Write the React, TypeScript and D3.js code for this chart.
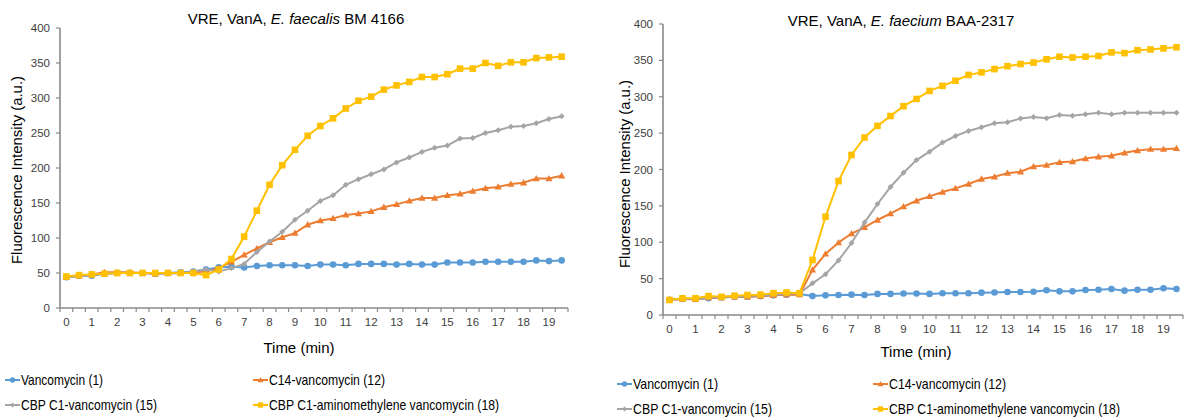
import React from "react";
import * as d3 from "d3";

const times = [0, 0.5, 1, 1.5, 2, 2.5, 3, 3.5, 4, 4.5, 5, 5.5, 6, 6.5, 7, 7.5, 8, 8.5, 9, 9.5, 10, 10.5, 11, 11.5, 12, 12.5, 13, 13.5, 14, 14.5, 15, 15.5, 16, 16.5, 17, 17.5, 18, 18.5, 19, 19.5];
const xTickLabels = [0, 1, 2, 3, 4, 5, 6, 7, 8, 9, 10, 11, 12, 13, 14, 15, 16, 17, 18, 19];
const yTickLabels = [0, 50, 100, 150, 200, 250, 300, 350, 400];

const seriesNames = ["Vancomycin (1)", "C14-vancomycin (12)", "CBP C1-vancomycin (15)", "CBP C1-aminomethylene vancomycin (18)"];
const seriesColors = ["#5B9BD5", "#ED7D31", "#A5A5A5", "#FFC000"];
const seriesMarkers = ["circle", "triangle", "diamond", "square"];

// E. faecalis BM 4166
const faecalisVanco = [44, 46, 46, 49, 50, 50, 50, 49, 50, 51, 52, 55, 58, 59, 58, 60, 61, 61, 61, 60, 62, 62, 61, 63, 63, 63, 62, 63, 62, 62, 65, 65, 65, 66, 66, 66, 66, 68, 67, 68];
const faecalisC14 = [44, 46, 48, 51, 51, 51, 50, 49, 50, 50, 51, 52, 57, 66, 76, 85, 94, 101, 107, 119, 125, 128, 133, 135, 138, 144, 148, 153, 157, 157, 161, 163, 167, 171, 173, 177, 179, 185, 185, 189];
const faecalisCBP = [44, 46, 47, 49, 50, 50, 50, 50, 49, 50, 52, 55, 52, 57, 63, 80, 95, 109, 126, 139, 153, 161, 176, 184, 191, 198, 208, 215, 223, 229, 232, 242, 243, 250, 254, 259, 260, 264, 270, 274];
const faecalisAmino = [45, 47, 48, 49, 50, 50, 50, 50, 50, 50, 50, 47, 55, 70, 102, 139, 176, 204, 226, 246, 260, 271, 285, 296, 302, 312, 318, 323, 330, 330, 334, 342, 342, 350, 346, 351, 351, 357, 358, 359];

// E. faecium BAA-2317
const faeciumVanco = [21, 22, 22, 23, 24, 25, 25, 26, 27, 28, 29, 26, 27, 27.5, 28, 27.5, 29, 29, 29.5, 29.5, 29, 30, 30, 30, 30.7, 31, 31.6, 31.6, 32, 34, 32.5, 32.5, 34.4, 34.7, 35.7, 33.5, 34.7, 34.7, 36.7, 35.7];
const faeciumC14 = [21, 22, 21.5, 24, 24, 25, 25, 26, 27, 28, 28, 62, 84, 99.5, 112, 120.5, 130.6, 139.5, 149, 157, 163, 169, 174, 180, 187, 190, 195, 197, 204, 206, 210, 211, 215, 217.6, 219, 223, 226, 228, 228, 229];
const faeciumCBP = [21, 22, 22, 24, 25, 25, 26, 27, 28, 29, 30, 43.5, 56, 75, 99, 127, 152.6, 176, 195.6, 213, 224.5, 237, 246, 253, 258, 263.5, 265, 270, 272, 270.5, 275, 274, 276, 278, 276, 278, 278, 278, 278, 278];
const faeciumAmino = [20.6, 23, 23, 26, 25, 26.5, 27.5, 28, 30, 31, 30, 75.6, 135, 184, 220, 244, 260, 273.5, 287, 297, 308, 315, 322, 330, 333.5, 338, 342, 345, 347, 351.5, 355, 354, 355, 356, 361, 360, 364, 365, 366.5, 368];

const FONT = "'Liberation Sans', Arial, sans-serif";
const AXIS = "#8a8a8a";
const TXT = "#404040";

function Marker({ kind, x, y, color, s = 1 }: { kind: string; x: number; y: number; color: string; s?: number }) {
  if (kind === "circle") return <circle cx={x} cy={y} r={3.3 * s} fill={color} />;
  if (kind === "square") return <rect x={x - 3.3 * s} y={y - 3.3 * s} width={6.6 * s} height={6.6 * s} fill={color} />;
  if (kind === "triangle") {
    const r = 3.6 * s;
    return <path d={`M${x},${y - r}L${x + r},${y + r * 0.75}L${x - r},${y + r * 0.75}Z`} fill={color} />;
  }
  const r = 3 * s;
  return <path d={`M${x},${y - r}L${x + r},${y}L${x},${y + r}L${x - r},${y}Z`} fill={color} />;
}

type PanelProps = {
  left: number; right: number; top: number; bottom: number;
  data: number[][];
  title: React.ReactNode;
  titleX: number; titleY: number;
  yTitleX: number; yTitleY: number;
  xTitleX: number; xTitleY: number;
  legendX: number[]; legendY: number[]; legendW: number[];
};

function Panel(p: PanelProps) {
  const x = d3.scaleLinear().domain([-0.25, 19.75]).range([p.left, p.right]);
  const y = d3.scaleLinear().domain([0, 400]).range([p.bottom, p.top]);
  const line = d3.line<number>().x((_, i) => x(times[i])).y((v) => y(v));
  const boundaries = times.map((t) => t - 0.25).concat([times[times.length - 1] + 0.25]);
  return (
    <g fontFamily={FONT}>
      <text x={p.titleX} y={p.titleY} textAnchor="middle" fontSize={15} fill="#000">{p.title}</text>
      {/* y axis */}
      <line x1={p.left} x2={p.left} y1={p.top} y2={p.bottom} stroke={AXIS} strokeWidth={1.6} />
      {yTickLabels.map((v) => (
        <g key={v}>
          <line x1={p.left - 4} x2={p.left} y1={y(v)} y2={y(v)} stroke={AXIS} strokeWidth={1.2} />
          <text x={p.left - 10} y={y(v) + 4} textAnchor="end" fontSize={11.5} fill={TXT}>{v}</text>
        </g>
      ))}
      {/* x axis */}
      <line x1={p.left} x2={p.right} y1={p.bottom} y2={p.bottom} stroke={AXIS} strokeWidth={1.6} />
      {boundaries.map((b, i) => (
        <line key={i} x1={x(b)} x2={x(b)} y1={p.bottom} y2={p.bottom + 4} stroke={AXIS} strokeWidth={1.2} />
      ))}
      {xTickLabels.map((t) => (
        <text key={t} x={x(t)} y={p.bottom + 18} textAnchor="middle" fontSize={11.5} fill={TXT}>{t}</text>
      ))}
      <text x={p.xTitleX} y={p.xTitleY} textAnchor="middle" fontSize={15} fill="#000">Time (min)</text>
      <text transform={`translate(${p.yTitleX},${p.yTitleY}) rotate(-90)`} textAnchor="middle" fontSize={15.5} fill="#000" textLength={188} lengthAdjust="spacingAndGlyphs">Fluorescence Intensity (a.u.)</text>
      {p.data.map((vals, si) => (
        <g key={si}>
          <path d={line(vals) || ""} fill="none" stroke={seriesColors[si]} strokeWidth={2} />
          {vals.map((v, i) => (
            <Marker key={i} kind={seriesMarkers[si]} x={x(times[i])} y={y(v)} color={seriesColors[si]} />
          ))}
        </g>
      ))}
      {seriesNames.map((name, si) => {
        const lx = p.legendX[si % 2];
        const ly = p.legendY[Math.floor(si / 2)];
        return (
          <g key={name}>
            <line x1={lx} x2={lx + 15} y1={ly} y2={ly} stroke={seriesColors[si]} strokeWidth={2} />
            <Marker kind={seriesMarkers[si]} x={lx + 7.5} y={ly} color={seriesColors[si]} s={0.8} />
            <text x={lx + 16} y={ly + 5} fontSize={15} fill="#000" textLength={p.legendW[si]} lengthAdjust="spacingAndGlyphs">{name}</text>
          </g>
        );
      })}
    </g>
  );
}

export default function App() {
  return (
    <svg width={1191} height={418} style={{ position: "absolute", left: 0, top: 0, background: "#fff" }}>
      <rect width={1191} height={418} fill="#fff" />
      <Panel
        left={60} right={568} top={28} bottom={308}
        data={[faecalisVanco, faecalisC14, faecalisCBP, faecalisAmino]}
        title={<>VRE, VanA, <tspan fontStyle="italic">E. faecalis</tspan> BM 4166</>}
        titleX={296} titleY={24}
        yTitleX={22} yTitleY={170}
        xTitleX={299} xTitleY={353}
        legendX={[5, 253]} legendY={[380, 405]}
        legendW={[82, 116, 136, 230]}
      />
      <Panel
        left={663} right={1183} top={24} bottom={315}
        data={[faeciumVanco, faeciumC14, faeciumCBP, faeciumAmino]}
        title={<>VRE, VanA, <tspan fontStyle="italic">E. faecium</tspan> BAA-2317</>}
        titleX={901} titleY={26}
        yTitleX={630} yTitleY={174}
        xTitleX={916} xTitleY={357}
        legendX={[617, 873]} legendY={[384, 409]}
        legendW={[85, 117, 139, 231]}
      />
    </svg>
  );
}
